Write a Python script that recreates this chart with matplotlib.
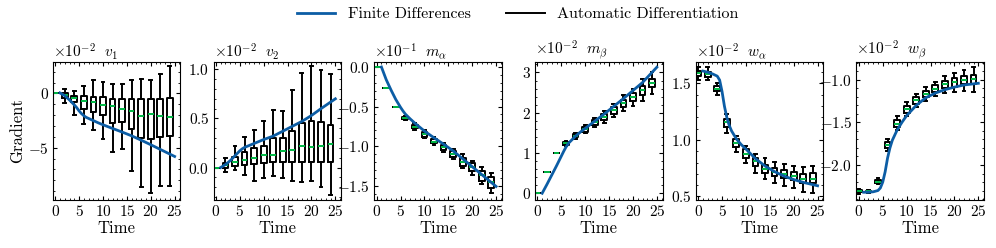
import matplotlib
matplotlib.use("Agg")
import matplotlib.pyplot as plt
from matplotlib.lines import Line2D
from matplotlib.ticker import MultipleLocator, AutoMinorLocator, ScalarFormatter

plt.rcParams.update({
    'font.family': 'serif',
    'font.serif': ['cmr10'],
    'mathtext.fontset': 'cm',
    'axes.formatter.use_mathtext': True,
    'xtick.direction': 'in',
    'ytick.direction': 'in',
    'xtick.top': True,
    'ytick.right': True,
    'xtick.minor.visible': True,
    'ytick.minor.visible': True,
    'xtick.major.size': 3,
    'ytick.major.size': 3,
    'xtick.minor.size': 1.5,
    'ytick.minor.size': 1.5,
    'axes.linewidth': 0.8,
})

blue = '#0C5DA5'
green = '#00B945'

# box positions (time steps) and finite-difference curve times
box_t = [0, 2, 4, 6, 8, 10, 12, 14, 16, 18, 20, 22, 24]
fd_t = [1, 2, 3, 4, 4.5, 5, 5.5, 6, 6.5, 7, 8, 9, 10, 12, 14, 16, 18, 20, 22, 25]

# v1  (x 1e-2)
v1_lo = [0, -0.9, -2.0, -2.8, -3.4, -4.17, -5.4, -5.1, -7.16, -8.6, -9.2, -8.55, -8.55]
v1_q1 = [0, -0.45, -0.74, -1.45, -1.67, -2.0, -2.69, -2.6, -3.3, -4.07, -4.2, -4.04, -3.9]
v1_med = [0, -0.1, -0.43, -0.68, -0.83, -1.08, -1.14, -1.45, -1.57, -2.07, -1.88, -2.07, -2.2]
v1_q3 = [0, 0.05, -0.2, -0.2, -0.28, -0.28, -0.52, -0.52, -0.52, -0.52, -0.52, -0.52, -0.43]
v1_hi = [0, 0.4, 0.2, 0.65, 1.27, 1.05, 0.9, 0.9, 1.27, 1.33, 1.27, 1.8, 2.56]
v1_fd = [0.05, -0.2, -0.6, -1.05, -1.3, -1.6, -1.85, -2.05, -2.2, -2.3, -2.5, -2.7, -2.88,
         -3.22, -3.55, -3.9, -4.3, -4.72, -5.15, -5.8]

# v2  (x 1e-2)
v2_lo = [0, -0.05, -0.025, -0.075, -0.14, -0.11, -0.09, -0.11, -0.14, -0.15, -0.14, -0.2, -0.28]
v2_q1 = [0, -0.007, 0.02, 0.03, 0.034, 0.045, 0.055, 0.055, 0.055, 0.055, 0.055, 0.055, 0.055]
v2_med = [0, 0.03, 0.055, 0.08, 0.096, 0.124, 0.124, 0.165, 0.18, 0.22, 0.21, 0.22, 0.24]
v2_q3 = [0, 0.045, 0.11, 0.16, 0.2, 0.22, 0.3, 0.3, 0.37, 0.45, 0.47, 0.46, 0.43]
v2_hi = [0, 0.10, 0.22, 0.31, 0.385, 0.47, 0.59, 0.58, 0.79, 0.96, 1.03, 0.99, 0.955]
v2_fd = [0, 0.03, 0.07, 0.12, 0.145, 0.17, 0.19, 0.205, 0.215, 0.225, 0.245, 0.265, 0.285,
         0.32, 0.37, 0.42, 0.47, 0.53, 0.6, 0.70]

# m_alpha  (x 1e-1)
ma_lo = [0, -0.26, -0.5, -0.67, -0.8, -0.9, -0.99, -1.08, -1.16, -1.28, -1.365, -1.48, -1.59]
ma_q1 = [0, -0.26, -0.5, -0.66, -0.777, -0.882, -0.966, -1.05, -1.134, -1.248, -1.32, -1.437, -1.534]
ma_med = [0, -0.26, -0.5, -0.64, -0.756, -0.85, -0.945, -1.017, -1.1, -1.2, -1.27, -1.365, -1.46]
ma_q3 = [0, -0.26, -0.5, -0.63, -0.735, -0.82, -0.916, -0.987, -1.067, -1.147, -1.218, -1.31, -1.387]
ma_hi = [0, -0.26, -0.5, -0.62, -0.71, -0.8, -0.88, -0.966, -1.04, -1.1, -1.185, -1.27, -1.336]
ma_fd = [0, -0.16, -0.29, -0.41, -0.46, -0.51, -0.555, -0.595, -0.625, -0.655, -0.71, -0.76, -0.81,
         -0.895, -0.975, -1.06, -1.16, -1.26, -1.36, -1.51]

# m_beta  (x 1e-2)
mb_lo = [0, 0.52, 0.99, 1.18, 1.35, 1.49, 1.64, 1.75, 1.9, 2.05, 2.17, 2.3, 2.46]
mb_q1 = [0, 0.52, 0.99, 1.21, 1.39, 1.53, 1.69, 1.82, 1.98, 2.13, 2.3, 2.45, 2.64]
mb_med = [0, 0.52, 0.99, 1.24, 1.42, 1.595, 1.76, 1.9, 2.07, 2.23, 2.4, 2.56, 2.74]
mb_q3 = [0, 0.52, 0.99, 1.27, 1.46, 1.65, 1.82, 1.98, 2.13, 2.31, 2.48, 2.66, 2.83]
mb_hi = [0, 0.52, 0.99, 1.3, 1.49, 1.69, 1.88, 2.05, 2.21, 2.44, 2.6, 2.83, 3.02]
mb_fd = [0, 0.22, 0.45, 0.68, 0.8, 0.92, 1.04, 1.15, 1.24, 1.3, 1.42, 1.52, 1.61,
         1.79, 1.97, 2.16, 2.35, 2.55, 2.75, 3.13]

# w_alpha  (x 1e-2)
wa_lo = [1.53, 1.53, 1.395, 1.066, 0.895, 0.796, 0.707, 0.656, 0.617, 0.596, 0.572, 0.536, 0.527]
wa_q1 = [1.566, 1.56, 1.43, 1.117, 0.937, 0.841, 0.766, 0.707, 0.677, 0.66, 0.647, 0.617, 0.617]
wa_med = [1.59, 1.584, 1.455, 1.156, 0.976, 0.877, 0.81, 0.745, 0.72, 0.697, 0.685, 0.656, 0.656]
wa_q3 = [1.614, 1.605, 1.476, 1.186, 1.006, 0.916, 0.84, 0.78, 0.75, 0.736, 0.72, 0.697, 0.707]
wa_hi = [1.65, 1.644, 1.5, 1.23, 1.036, 0.946, 0.877, 0.84, 0.805, 0.787, 0.766, 0.757, 0.766]
wa_fd = [1.61, 1.6, 1.585, 1.565, 1.53, 1.43, 1.3, 1.2, 1.13, 1.08, 1.01, 0.96, 0.92,
         0.835, 0.77, 0.72, 0.68, 0.65, 0.625, 0.595]

# w_beta  (x 1e-2)
wb_lo = [-2.34, -2.33, -2.22, -1.833, -1.59, -1.428, -1.32, -1.249, -1.195, -1.156, -1.144, -1.125, -1.144]
wb_q1 = [-2.32, -2.32, -2.214, -1.805, -1.553, -1.385, -1.28, -1.202, -1.144, -1.093, -1.078, -1.054, -1.054]
wb_med = [-2.31, -2.31, -2.195, -1.767, -1.514, -1.346, -1.24, -1.163, -1.105, -1.047, -1.027, -1.0, -0.988]
wb_q3 = [-2.295, -2.3, -2.175, -1.735, -1.475, -1.311, -1.202, -1.125, -1.066, -1.008, -0.977, -0.95, -0.938]
wb_hi = [-2.284, -2.29, -2.156, -1.69, -1.428, -1.26, -1.163, -1.078, -1.027, -0.95, -0.922, -0.883, -0.852]
wb_fd = [-2.32, -2.32, -2.315, -2.3, -2.27, -2.2, -2.08, -1.92, -1.8, -1.71, -1.59, -1.5, -1.42,
         -1.3, -1.21, -1.155, -1.115, -1.085, -1.06, -1.04]

names = [r'v_1', r'v_2', r'm_\alpha', r'm_\beta', r'w_\alpha', r'w_\beta']
exps = [-2, -2, -1, -2, -2, -2]
ylims = [(-9.8, 2.9), (-0.33, 1.075), (-1.68, 0.063), (-0.165, 3.26), (0.47, 1.69), (-2.41, -0.79)]
ysteps = [5, 0.5, 0.5, 1, 0.5, 0.5]
panels = [
    (v1_lo, v1_q1, v1_med, v1_q3, v1_hi, v1_fd),
    (v2_lo, v2_q1, v2_med, v2_q3, v2_hi, v2_fd),
    (ma_lo, ma_q1, ma_med, ma_q3, ma_hi, ma_fd),
    (mb_lo, mb_q1, mb_med, mb_q3, mb_hi, mb_fd),
    (wa_lo, wa_q1, wa_med, wa_q3, wa_hi, wa_fd),
    (wb_lo, wb_q1, wb_med, wb_q3, wb_hi, wb_fd),
]

fig, axes = plt.subplots(1, 6, figsize=(9.96, 2.48), dpi=100)
fig.subplots_adjust(left=0.053, right=0.988, top=0.75, bottom=0.194, wspace=0.26)

for i, ax in enumerate(axes):
    lo, q1, med, q3, hi, fd = panels[i]
    stats = []
    for j in range(len(box_t)):
        stats.append({'med': med[j], 'q1': q1[j], 'q3': q3[j],
                      'whislo': lo[j], 'whishi': hi[j], 'fliers': []})
    ax.bxp(stats, positions=box_t, widths=1.2, showfliers=False, manage_ticks=False,
           boxprops=dict(color='black', linewidth=1.4),
           whiskerprops=dict(color='black', linewidth=1.4),
           capprops=dict(color='black', linewidth=1.4),
           medianprops=dict(color=green, linewidth=1.4))
    ax.plot(fd_t, fd, color=blue, linewidth=2, zorder=5)

    ax.set_xlim(-0.5, 26.2)
    ax.set_ylim(*ylims[i])
    ax.xaxis.set_major_locator(MultipleLocator(5))
    ax.xaxis.set_minor_locator(AutoMinorLocator(5))
    ax.yaxis.set_major_locator(MultipleLocator(ysteps[i]))
    ax.yaxis.set_minor_locator(AutoMinorLocator(5))
    fmt = ScalarFormatter(useMathText=True)
    fmt.set_useOffset(False)
    ax.yaxis.set_major_formatter(fmt)
    ax.tick_params(labelsize=11, pad=3)
    ax.set_xlabel('Time', fontsize=12, labelpad=1)
    ax.set_title(r'$\times10^{%d}\ \ %s$' % (exps[i], names[i]), loc='left', fontsize=11, pad=3)

axes[0].set_ylabel('Gradient', fontsize=12, labelpad=2)

handles = [Line2D([], [], color=blue, linewidth=2),
           Line2D([], [], color='black', linewidth=1.4)]
fig.legend(handles, ['Finite Differences', 'Automatic Differentiation'],
           loc='upper center', bbox_to_anchor=(0.52, 1.03), ncol=2, frameon=False,
           fontsize=11.5, handlelength=2.4, handletextpad=0.8, columnspacing=2.2)

fig.savefig('out.png', dpi=100)
